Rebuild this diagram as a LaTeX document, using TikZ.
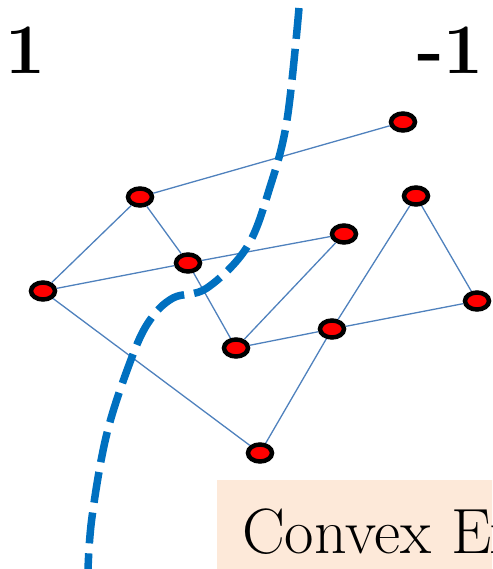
\documentclass[tikz,border=0pt]{standalone}
\usetikzlibrary{shapes.geometric}
\definecolor{edgeblue}{RGB}{79,129,189}
\definecolor{curveblue}{RGB}{0,112,192}
\definecolor{peach}{RGB}{253,233,217}
\tikzset{
  pt/.style={ellipse, draw=black, fill=red, line width=4.5pt, minimum width=24pt, minimum height=17pt, inner sep=0pt},
  edge/.style={edgeblue, line width=1.3pt}
}
\begin{document}
\begin{tikzpicture}[x=1pt,y=-1pt]
\useasboundingbox (0,0) rectangle (492,569);
\clip (0,0) rectangle (492,569);

% Label box
\fill[peach] (217,480) rectangle (500,580);
\node[anchor=base west, inner sep=0pt, font=\fontsize{64}{64}\selectfont] (title) at (242,553) {Convex Ex};

% Class labels
\node[anchor=base, inner sep=0pt, font=\fontsize{71}{71}\selectfont\bfseries] (pos) at (25,74) {1};
\node[anchor=base east, inner sep=0pt, font=\fontsize{71}{71}\selectfont\bfseries] (neg) at (484,74) {-1};

% Draw points
\node[pt] (a) at (403,122) {};
\node[pt] (b) at (140,197) {};
\node[pt] (c) at (416,196) {};
\node[pt] (d) at (344,234) {};
\node[pt] (e) at (188,263) {};
\node[pt] (f) at (43,291) {};
\node[pt] (g) at (477,301) {};
\node[pt] (h) at (332,329) {};
\node[pt] (i) at (236,348) {};
\node[pt] (j) at (260,453) {};

% Draw edges
\foreach \u/\v in {b/a, b/f, b/e, f/e, e/d, e/i, i/d, i/h, h/g, c/g, c/h, h/j, f/j}
  \draw[edge] (\u) -- (\v);

% Draw separating curve
\draw[curveblue, line width=7.5pt, dash pattern=on 31pt off 10pt, smooth, tension=0.6]
  plot coordinates {(299,8) (287,120) (270,187) (247,247) (207,288) (173,298) (150,320) (132,357) (107,433) (92,517) (88,570)};
\end{tikzpicture}
\end{document}
